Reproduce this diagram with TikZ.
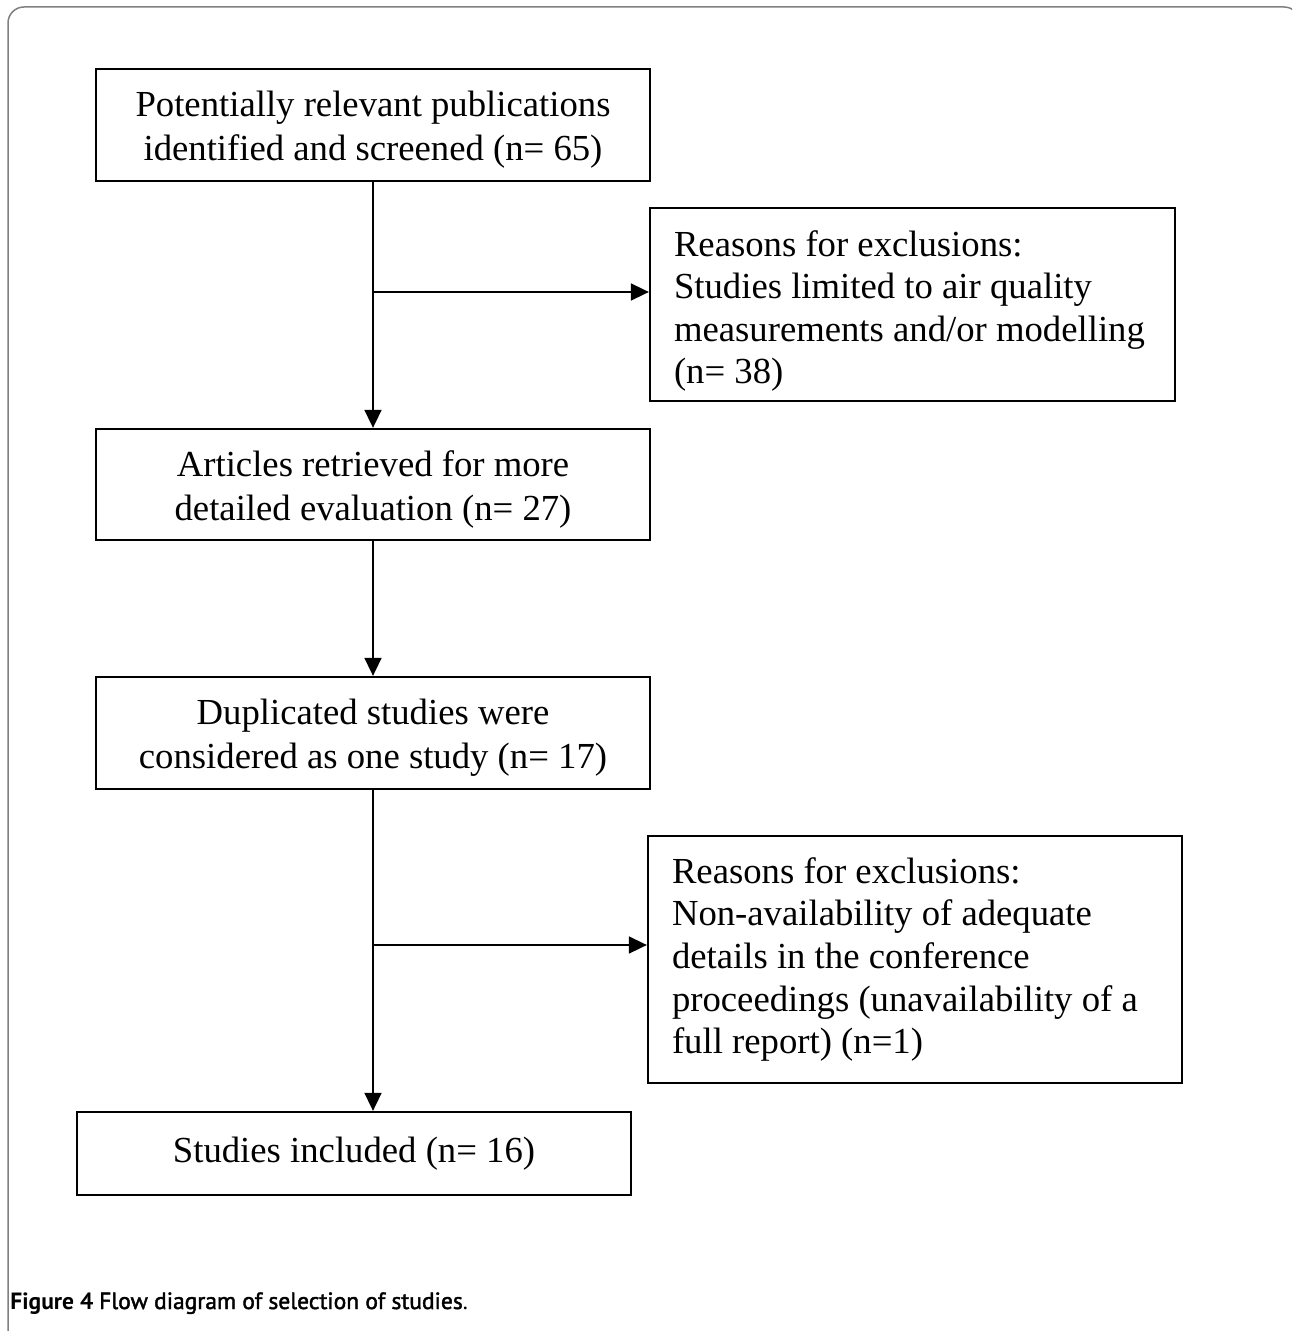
\documentclass[tikz,border=0pt]{standalone}
\usepackage{fontspec}
\setmainfont{Liberation Serif}
\newfontfamily\capfont{PT Sans}
\newfontfamily\capmed[FakeBold=1.8]{PT Sans}
\usetikzlibrary{arrows.meta}
\newcommand{\firststrut}[1]{\rule{0pt}{#1}}
\begin{document}
\begin{tikzpicture}[x=0.5pt,y=-0.5pt,
  boxstyle/.style={draw=black,line width=1.15pt,inner ysep=0pt,
    font=\fontsize{18.35pt}{22pt}\selectfont},
  midbox/.style={boxstyle,minimum width=277pt,minimum height=56pt,align=center},
  reasonbox/.style={boxstyle,align=left,inner xsep=12pt,
    font=\fontsize{18.35pt}{21.3pt}\selectfont},
  conn/.style={line width=0.85pt,draw=black},
  arr/.style={conn,-{Triangle[length=9pt,width=8.5pt]}}]
\useasboundingbox (0,0) rectangle (1292,1331);
\begin{scope}
\clip (0,0) rectangle (1292,1331);
\draw[gray,line width=0.75pt,rounded corners=8pt] (8,1400) -- (8,7) -- (1300,7) -- (1300,1400);
\end{scope}
\node[midbox] (b1) at (373,125) {\firststrut{17.6pt}Potentially relevant publications\\identified and screened (n= 65)};
\node[reasonbox,text width=238.5pt,minimum height=96.5pt] (b2) at (912.5,304.5)
  {\spaceskip=0pt\xspaceskip=0pt\firststrut{19.5pt}Reasons for exclusions:\\Studies limited to air quality\\measurements and/or modelling\\(n= 38)};
\node[midbox,minimum height=55.5pt] (b3) at (373,484.5) {\firststrut{17.6pt}Articles retrieved for more\\detailed evaluation (n= 27)};
\node[midbox] (b4) at (373,733) {\firststrut{17.6pt}Duplicated studies were\\considered as one study (n= 17)};
\node[reasonbox,text width=243pt,minimum height=123.5pt] (b5) at (915,959.5)
  {\spaceskip=0pt\xspaceskip=0pt Reasons for exclusions:\\Non-availability of adequate\\details in the conference\\proceedings (unavailability of a\\full report) (n=1)};
\node[midbox,minimum height=41.5pt] (b6) at (354,1153.5) {Studies included (n= 16)};
\coordinate (j1) at (373,292);
\coordinate (j2) at (373,945);
\draw[arr] (b1.south) -- (b3.north);
\draw[arr] (j1) -- (j1 -| b2.west);
\draw[arr] (b3.south) -- (b4.north);
\draw[arr] (b4.south) -- (b4.south |- b6.north);
\draw[arr] (j2) -- (j2 -| b5.west);
\node[anchor=base west,inner sep=0pt,font=\fontsize{11.75pt}{14pt}\selectfont] (cap) at (10,1309)
  {{\capfont\bfseries Figure 4} {\capmed Flow diagram of selection of studies}{\capfont .}};
\end{tikzpicture}
\end{document}
